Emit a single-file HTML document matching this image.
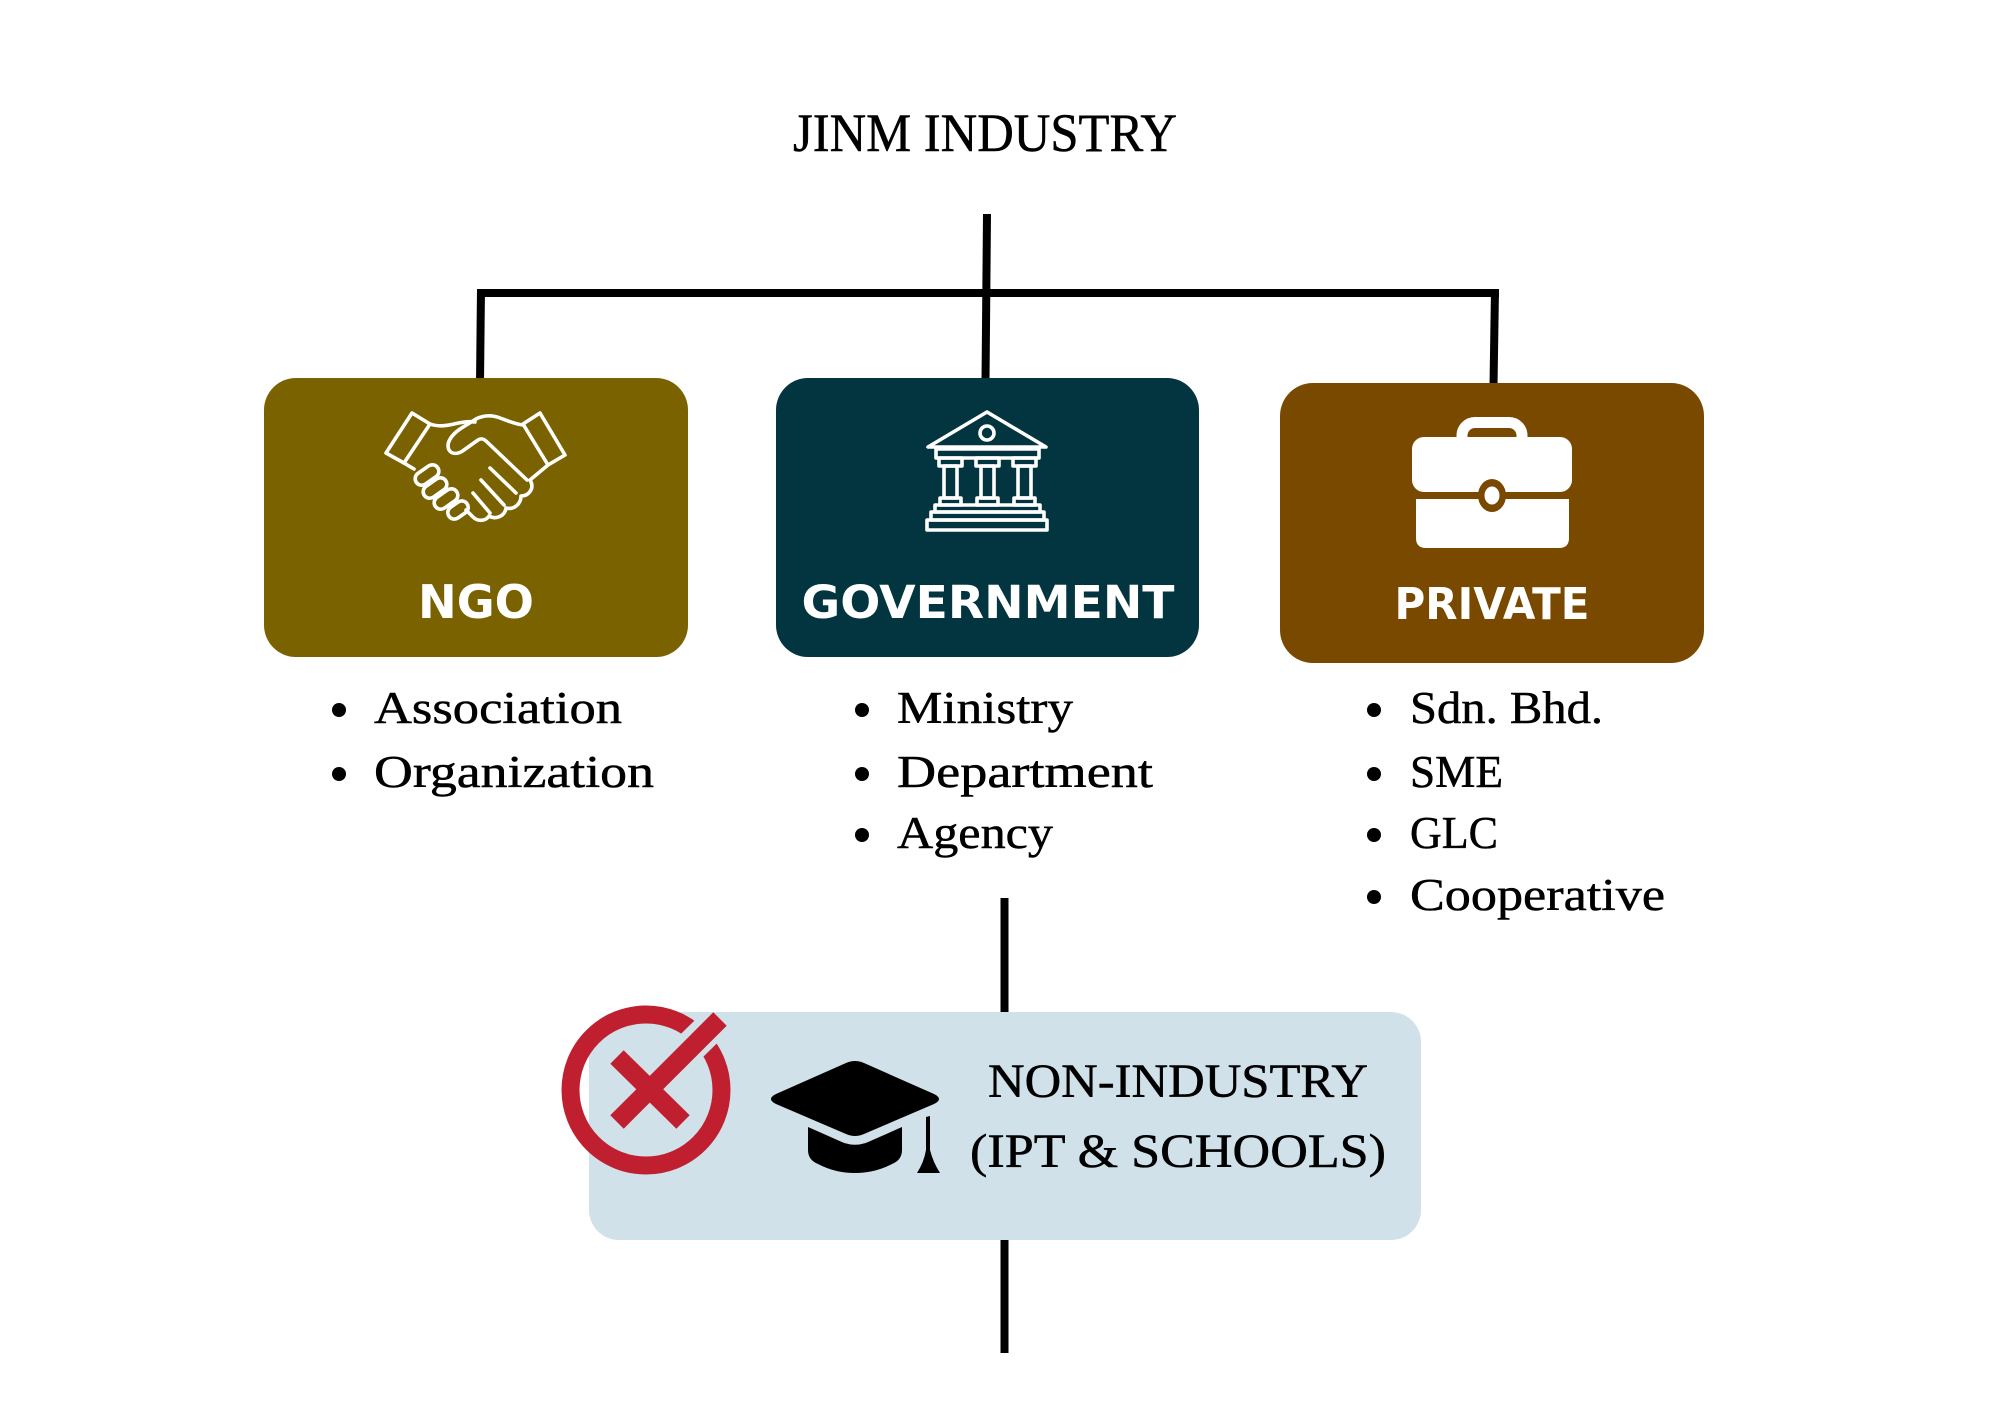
<!DOCTYPE html>
<html>
<head>
<meta charset="utf-8">
<style>
  html,body{margin:0;padding:0;background:#fff;}
  svg{display:block;}
  .serif{font-family:"Liberation Serif","DejaVu Serif",serif;fill:#000;stroke:#000;stroke-width:0.5;}
  .lbl{font-family:"DejaVu Sans","Liberation Sans",sans-serif;font-weight:bold;fill:#fff;}
</style>
</head>
<body>
<svg width="2000" height="1414" viewBox="0 0 2000 1414" xmlns="http://www.w3.org/2000/svg">
  <defs>
    <clipPath id="boxclip"><rect x="589" y="1012" width="832" height="228" rx="30"/></clipPath>
  </defs>
  <rect x="0" y="0" width="2000" height="1414" fill="#fff"/>

  <!-- Title -->
  <text class="serif" x="985" y="151" font-size="54" text-anchor="middle" textLength="384" lengthAdjust="spacingAndGlyphs">JINM INDUSTRY</text>

  <!-- Connectors -->
  <g stroke="#000" stroke-width="8" fill="none" stroke-linecap="butt">
    <line x1="987" y1="214" x2="985.5" y2="382"/>
    <line x1="477" y1="293" x2="1499" y2="293"/>
    <line x1="481" y1="289" x2="480" y2="382"/>
    <line x1="1495" y1="289" x2="1493.5" y2="386"/>
    <line x1="1004.5" y1="898" x2="1004.5" y2="1353"/>
  </g>

  <!-- Boxes -->
  <rect x="264" y="378" width="424" height="279" rx="32" fill="#7b6200"/>
  <rect x="776" y="378" width="423" height="279" rx="32" fill="#02353f"/>
  <rect x="1280" y="383" width="424" height="280" rx="33" fill="#7a4900"/>

  <!-- Handshake icon -->
  <g transform="translate(380,400)" stroke="#fff" stroke-width="3.6" fill="none" stroke-linejoin="round" stroke-linecap="round">
    <polygon points="32,13 50,24 24,63 6,53"/>
    <polygon points="143,24 160,13 185,55 168,65"/>
    <path d="M50,24 C58,27 66,26 74,24 C82,22 88,21 95,22"/>
    <path d="M143,25 C135,24 128,21 120,18 C112,15 104,15 96,19 L80,29 C70,36 66,44 69,50 C72,55 79,54 84,50 L98,40 C101,38 104,39 106,41 L147,80"/>
    <path d="M168,65 L150,80 C155,88 149,96 141,96 C141,104 134,110 126,108 C125,116 116,120 109,116 C106,121 98,122 93,117 L86,110"/>
    <path d="M110,68 L136,93"/>
    <path d="M101,80 L124,105"/>
    <path d="M93,93 L110,113"/>
    <path d="M24,63 L34,69"/>
    <g transform="translate(47,75) rotate(-35)"><rect x="-13" y="-6.5" width="26" height="13" rx="6.5"/></g>
    <g transform="translate(55,88) rotate(-35)"><rect x="-13" y="-6.5" width="26" height="13" rx="6.5"/></g>
    <g transform="translate(66,99) rotate(-35)"><rect x="-13" y="-6.5" width="26" height="13" rx="6.5"/></g>
    <g transform="translate(78,110) rotate(-35)"><rect x="-11" y="-6.5" width="22" height="13" rx="6.5"/></g>
  </g>

  <!-- Temple icon -->
  <g transform="translate(920,405)" stroke="#fff" stroke-width="3.6" fill="none" stroke-linejoin="round">
    <polygon points="67,7 8,42 126,42"/>
    <circle cx="67" cy="28" r="7"/>
    <rect x="16" y="44" width="103" height="9"/>
    <rect x="19" y="53" width="23" height="8"/>
    <rect x="56" y="53" width="23" height="8"/>
    <rect x="93" y="53" width="23" height="8"/>
    <rect x="24" y="61" width="13" height="32"/>
    <rect x="61" y="61" width="13" height="32"/>
    <rect x="98" y="61" width="13" height="32"/>
    <rect x="20" y="93" width="21" height="7"/>
    <rect x="57" y="93" width="21" height="7"/>
    <rect x="94" y="93" width="21" height="7"/>
    <rect x="15" y="100" width="105" height="7"/>
    <rect x="11" y="107" width="113" height="8"/>
    <rect x="7" y="115" width="120" height="10"/>
  </g>

  <!-- Briefcase icon -->
  <rect x="1462" y="422.5" width="60" height="32" rx="13" stroke="#fff" stroke-width="11" fill="none"/>
  <rect x="1412" y="437" width="160" height="55" rx="12" fill="#fff"/>
  <path d="M1416,499 L1569,499 L1569,538 Q1569,548 1559,548 L1426,548 Q1416,548 1416,538 Z" fill="#fff"/>
  <ellipse cx="1492" cy="495.5" rx="14" ry="16.5" fill="#7a4900"/>
  <ellipse cx="1492" cy="495.5" rx="7.5" ry="9" fill="#fff"/>

  <!-- Box labels -->
  <text class="lbl" x="476" y="618" font-size="46" text-anchor="middle" textLength="116" lengthAdjust="spacingAndGlyphs">NGO</text>
  <text class="lbl" x="988" y="618" font-size="45" text-anchor="middle" textLength="373" lengthAdjust="spacingAndGlyphs">GOVERNMENT</text>
  <text class="lbl" x="1492" y="619" font-size="44" text-anchor="middle" textLength="195" lengthAdjust="spacingAndGlyphs">PRIVATE</text>

  <!-- NGO list -->
  <circle cx="339" cy="710" r="7"/>
  <text class="serif" x="374" y="723" font-size="45" textLength="248" lengthAdjust="spacingAndGlyphs">Association</text>
  <circle cx="339" cy="774" r="7"/>
  <text class="serif" x="374" y="787" font-size="45" textLength="280" lengthAdjust="spacingAndGlyphs">Organization</text>

  <!-- Government list -->
  <circle cx="862" cy="710" r="7"/>
  <text class="serif" x="897" y="723" font-size="45" textLength="176" lengthAdjust="spacingAndGlyphs">Ministry</text>
  <circle cx="862" cy="774" r="7"/>
  <text class="serif" x="897" y="787" font-size="45" textLength="256" lengthAdjust="spacingAndGlyphs">Department</text>
  <circle cx="862" cy="835" r="7"/>
  <text class="serif" x="897" y="848" font-size="45" textLength="156" lengthAdjust="spacingAndGlyphs">Agency</text>

  <!-- Private list -->
  <circle cx="1374" cy="710" r="7"/>
  <text class="serif" x="1410" y="723" font-size="45" textLength="193" lengthAdjust="spacingAndGlyphs">Sdn. Bhd.</text>
  <circle cx="1374" cy="774" r="7"/>
  <text class="serif" x="1410" y="787" font-size="45" textLength="93" lengthAdjust="spacingAndGlyphs">SME</text>
  <circle cx="1374" cy="835" r="7"/>
  <text class="serif" x="1410" y="848" font-size="45" textLength="88" lengthAdjust="spacingAndGlyphs">GLC</text>
  <circle cx="1374" cy="897" r="7"/>
  <text class="serif" x="1410" y="910" font-size="45" textLength="255" lengthAdjust="spacingAndGlyphs">Cooperative</text>

  <!-- Non-industry box -->
  <rect x="589" y="1012" width="832" height="228" rx="30" fill="#d0e1ea"/>

  <!-- Red X icon -->
  <circle cx="646" cy="1090" r="75.5" stroke="#c01f2f" stroke-width="18" fill="none"/>
  <g clip-path="url(#boxclip)">
    <line x1="668" y1="1069" x2="724" y2="1014" stroke="#d0e1ea" stroke-width="32"/>
  </g>
  <line x1="617" y1="1057" x2="683" y2="1122" stroke="#c01f2f" stroke-width="19"/>
  <line x1="617" y1="1122" x2="720" y2="1019" stroke="#c01f2f" stroke-width="19"/>

  <!-- Graduation cap -->
  <path d="M808,1127 L843,1142.5 Q855,1147 867,1142.5 L902,1127 L902,1150 Q902,1160 892,1164 Q875,1173 855,1173 Q835,1173 818,1164 Q808,1160 808,1150 Z" fill="#000"/>
  <path d="M776,1094 L846,1063 Q855,1059 864,1063 L934,1094 Q944,1099 934,1104 L864,1134 Q855,1138 846,1134 L776,1104 Q766,1099 776,1094 Z" fill="#000"/>
  <path d="M926,1117 L930,1116 L930,1150 Q933,1162 940,1173 L917,1173 Q924,1162 926,1150 Z" fill="#000"/>

  <!-- Non-industry text -->
  <text class="serif" x="1178" y="1097" font-size="48" text-anchor="middle" textLength="380" lengthAdjust="spacingAndGlyphs">NON-INDUSTRY</text>
  <text class="serif" x="1178" y="1167" font-size="48" text-anchor="middle" textLength="416" lengthAdjust="spacingAndGlyphs">(IPT &amp; SCHOOLS)</text>
</svg>
</body>
</html>
